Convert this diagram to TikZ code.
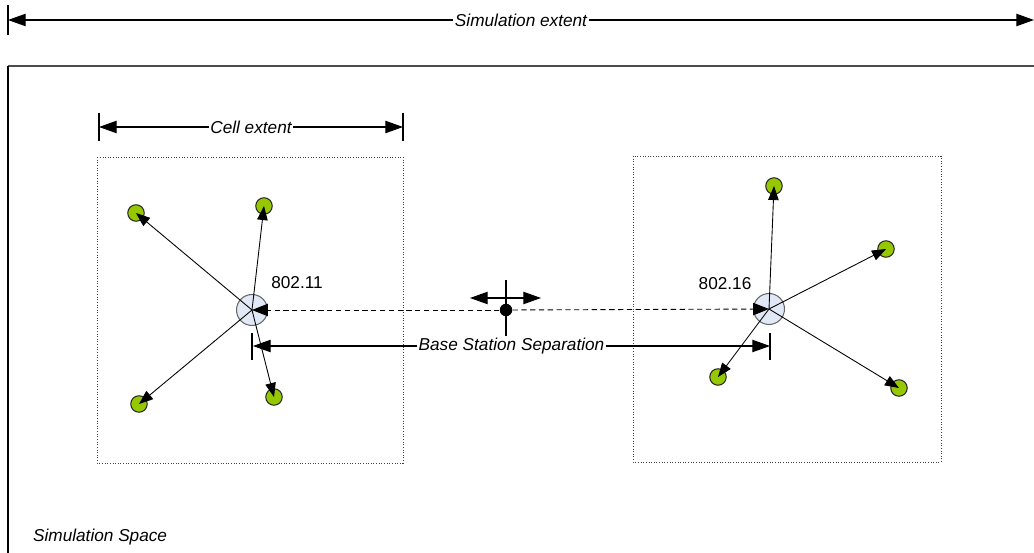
\documentclass[tikz,border=0pt]{standalone}
\usepackage{fontspec}
\setmainfont{Liberation Sans}
\usetikzlibrary{arrows.meta}
\definecolor{mobgreen}{RGB}{150,200,0}
\definecolor{bsblue}{RGB}{226,233,246}

\begin{document}
\begin{tikzpicture}[x=0.02cm,y=-0.02cm,
		lbl/.style={font=\fontsize{9.8}{11}\selectfont\itshape, fill=white, inner sep=1pt},
		num/.style={font=\fontsize{9.8}{11}\selectfont},
		dim/.style={line width=0.6pt, {Triangle[length=10pt,width=7pt]}-{Triangle[length=10pt,width=7pt]}},
		link/.style={line width=0.5pt, -{Triangle[length=8pt,width=6pt]}},
		bs/.style={circle, draw=black!60, line width=0.6pt, fill=bsblue, minimum size=0.62cm, inner sep=0pt},
		mobile/.style={circle, draw=black!85, line width=0.6pt, fill=mobgreen, minimum size=0.33cm, inner sep=0pt},
		cellbox/.style={draw=black!75, densely dotted, line width=0.5pt}]
		\useasboundingbox (0,0) rectangle (1034,553);
		% simulation space
		\draw[black!70, line width=0.8pt] (1034,66) -- (8,66);
		\draw[line width=0.6pt] (8,66) -- (8,553);
		\node[lbl, anchor=west] (space) at (31,537) {Simulation Space};
		% simulation extent
		\coordinate (simL) at (8,20);
		\coordinate (simR) at (1034,20);
		\draw[line width=0.6pt] (8,5) -- (8,35);
		\draw[dim] (simL) -- node[lbl] (simtext) {Simulation extent} (simR);
		% cell extent
		\coordinate (cellL) at (99,127);
		\coordinate (cellR) at (403,127);
		\draw[line width=0.6pt] (99,113) -- (99,141);
		\draw[line width=0.6pt] (403,113) -- (403,141);
		\draw[dim] (cellL) -- node[lbl] (celltext) {Cell extent} (cellR);
		% cells
		\draw[cellbox] (97,157) rectangle (403,463);
		\draw[cellbox] (633,156) rectangle (941,462);
		% base stations
		\node[bs] (bsA) at (252,310) {};
		\node[bs] (bsB) at (769,309) {};
		\node[num] (labA) at (297,283) {802.11};
		\node[num] (labB) at (725,284) {802.16};
		% mobiles
		\foreach \n/\x/\y in {1/136/213, 2/264/206, 3/139/404, 4/274/397}
		{
			\node[mobile] (a\n) at (\x,\y) {};
		}
		\foreach \n/\x/\y in {1/774/186, 2/886/249, 3/718/377, 4/899/388}
		{
			\node[mobile] (b\n) at (\x,\y) {};
		}
		\foreach \n in {1,...,4}
		{
			\draw[link] (bsA.center) -- (a\n.center);
			\draw[link] (bsB.center) -- (b\n.center);
		}
		% midpoint
		\node[circle, fill=black, minimum size=0.25cm, inner sep=0pt] (mid) at (506,310) {};
		\coordinate (midT) at (506,280);
		\coordinate (midB) at (506,336);
		\coordinate (midL) at (470,298);
		\coordinate (midR) at (541,298);
		\draw[line width=0.6pt] (midT) -- (midB);
		\draw[dim] (midL) -- (midR);
		\draw[line width=0.5pt, dash pattern=on 3pt off 2pt, -{Triangle[length=9pt,width=7pt]}] (mid) -- (bsA.center);
		\draw[line width=0.5pt, dash pattern=on 3pt off 2pt, -{Triangle[length=9pt,width=7pt]}] (mid) -- (bsB.center);
		% base station separation
		\coordinate (sepL) at (253,346);
		\coordinate (sepR) at (770,346);
		\draw[line width=0.6pt] (252,333) -- (252,360);
		\draw[line width=0.6pt] (770,333) -- (770,360);
		\draw[dim] (sepL) -- node[lbl] (septext) {Base Station Separation} (sepR);
	\end{tikzpicture}
\end{document}
